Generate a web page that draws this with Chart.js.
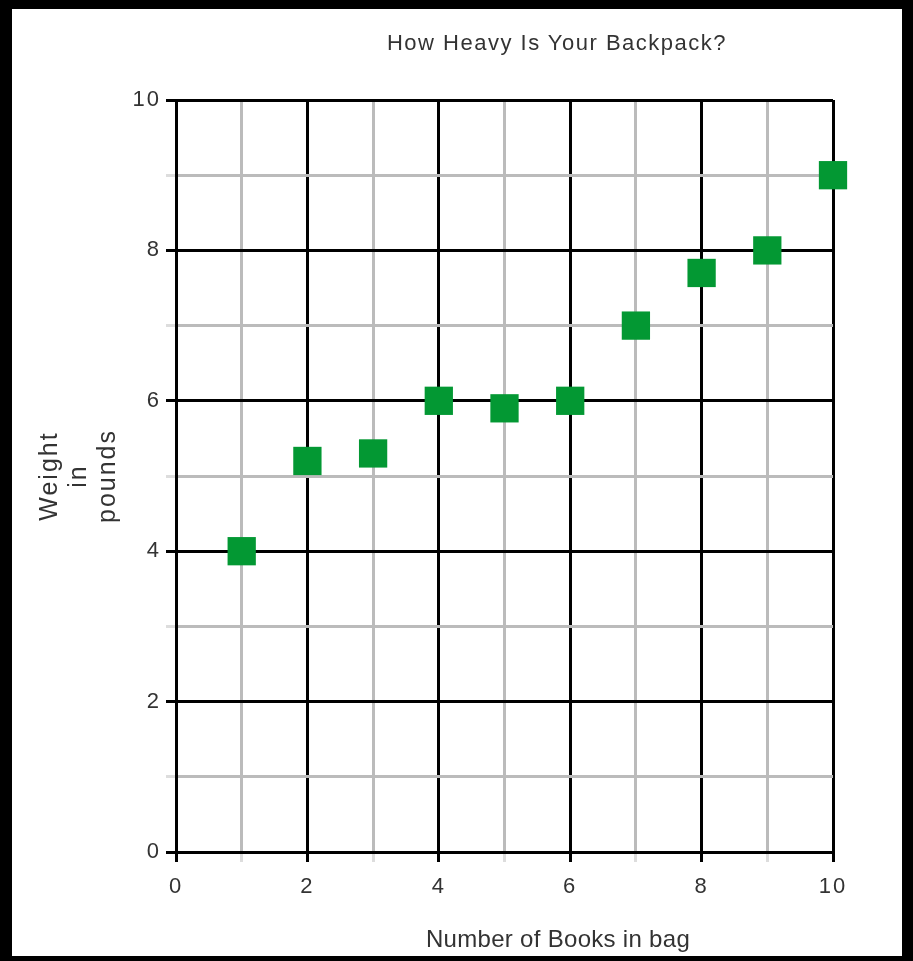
<!DOCTYPE html>
<html>
<head>
<meta charset="utf-8">
<script src="https://cdn.jsdelivr.net/npm/chart.js@4"></script>
<style>
  html, body { margin: 0; padding: 0; background: #fff; }
  #wrap { position: relative; width: 913px; height: 961px; overflow: hidden; }
  #c { position: absolute; left: 0; top: 0; }
  #frame { position: absolute; left: 0; top: 0; width: 913px; height: 961px; box-sizing: border-box;
           border-left: 12px solid #000; border-top: 9px solid #000; border-right: 11px solid #000; border-bottom: 5px solid #000;
           pointer-events: none; }
  .lbl { position: absolute; font-family: "Liberation Sans", Arial, sans-serif; color: #333; white-space: nowrap; transform: translateX(-50%); }
  #title { left: 557px; top: 32px; font-size: 22px; line-height: 22px; letter-spacing: 1.5px; }
  #xtitle { left: 558px; top: 927px; font-size: 24px; line-height: 24px; letter-spacing: 0.3px; }
</style>
</head>
<body>
<div id="wrap">
  <canvas id="c" width="913" height="961"></canvas>
  <div id="title" class="lbl">How Heavy Is Your Backpack?</div>
  <div id="xtitle" class="lbl">Number of Books in bag</div>
  <div id="frame"></div>
</div>
<script>
const books = [1, 2, 3, 4, 5, 6, 7, 8, 9, 10];
const weights = [4, 5.2, 5.3, 6, 5.9, 6, 7, 7.7, 8, 9];
const yTitleLines = ['Weight', 'in', 'pounds'];

const points = books.map((b, i) => ({ x: b, y: weights[i] }));
const gridColor = c => (c.tick && c.tick.value % 2 === 0) ? '#000000' : '#bbbbbb';
const tickMarkColor = c => (c.tick && c.tick.value % 2 === 0) ? '#000000' : '#dddddd';
const fontFam = '"Liberation Sans", Arial, sans-serif';

const spacingPlugin = {
  id: 'spacing',
  beforeDraw(chart) { chart.ctx.letterSpacing = '2px'; },
  beforeDatasetsDraw(chart) { chart.ctx.letterSpacing = '0px'; },
  afterDraw(chart) { chart.ctx.letterSpacing = '0px'; }
};

new Chart(document.getElementById('c'), {
  type: 'scatter',
  plugins: [spacingPlugin],
  data: {
    datasets: [{
      data: points,
      pointStyle: 'rect',
      pointRadius: 20,
      pointHoverRadius: 20,
      backgroundColor: '#039833',
      borderColor: '#039833',
      borderWidth: 0,
      clip: false
    }]
  },
  options: {
    responsive: false,
    devicePixelRatio: 1,
    animation: false,
    layout: { padding: { left: 0, top: 100, right: 80, bottom: 0 } },
    plugins: { legend: { display: false }, title: { display: false }, tooltip: { enabled: false } },
    scales: {
      x: {
        type: 'linear', min: 0, max: 10,
        afterFit: s => { s.height = 109; },
        ticks: { stepSize: 1, autoSkip: false, maxRotation: 0, padding: 12, color: '#333',
                 font: { family: fontFam, size: 22 },
                 callback: v => (v % 2 === 0 ? String(v) : '') },
        grid: { color: gridColor, lineWidth: 3, tickLength: 10, tickColor: tickMarkColor, tickWidth: 3 },
        border: { display: true, color: '#000', width: 3 }
      },
      y: {
        type: 'linear', min: 0, max: 10,
        afterFit: s => { s.width = 176; },
        ticks: { stepSize: 1, autoSkip: false, padding: 5, color: '#333',
                 font: { family: fontFam, size: 22 },
                 callback: v => (v % 2 === 0 ? String(v) : '') },
        grid: { color: gridColor, lineWidth: 3, tickLength: 10, tickColor: tickMarkColor, tickWidth: 3 },
        border: { display: true, color: '#000', width: 3 },
        title: { display: true, text: yTitleLines, color: '#333',
                 font: { family: fontFam, size: 25, lineHeight: 1.16 },
                 padding: { top: 36, bottom: 0 } }
      }
    }
  }
});
</script>
</body>
</html>
